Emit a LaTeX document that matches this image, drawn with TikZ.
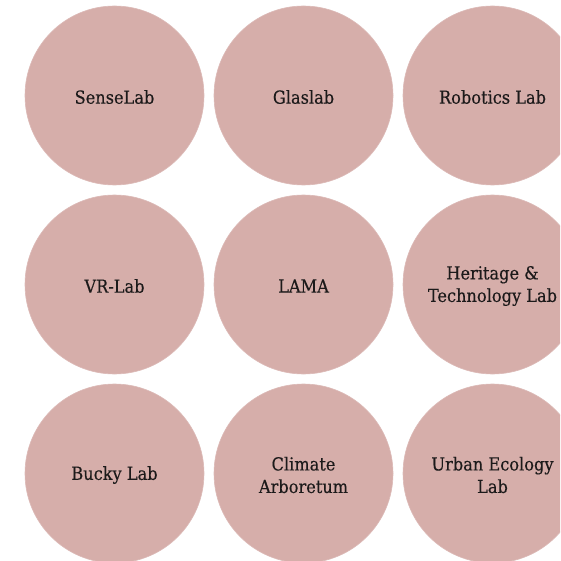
\documentclass[tikz,border=0pt]{standalone}
\usepackage{fontspec}
\setmainfont{DejaVu Serif Condensed}[FakeBold=0.25]
\definecolor{labfill}{HTML}{D6AEAA}
\definecolor{labtext}{HTML}{1C1A1A}
\begin{document}
\begin{tikzpicture}[x=1pt,y=-1pt,
  lab/.style={circle,fill=labfill,draw=labfill!85!white,line width=0.6pt,
    minimum size=179pt,inner sep=0pt},
  labname/.style={align=center,text=labtext,inner sep=0pt,yshift=-1.5pt,
    font=\fontsize{18}{22.5}\selectfont}]
\useasboundingbox (0,0) rectangle (560,561);
\clip (0,0) rectangle (560,561);
% the nine lab discs, three rows of three
\node[lab] (sense)    at (114.5,95.5)  {};
\node[lab] (glas)     at (303.5,95.5)  {};
\node[lab] (robot)    at (492.5,95.5)  {};
\node[lab] (vr)       at (114.5,284.5) {};
\node[lab] (lama)     at (303.5,284.5) {};
\node[lab] (heritage) at (492.5,284.5) {};
\node[lab] (bucky)    at (114.5,473.5) {};
\node[lab] (climate)  at (303.5,473.5) {};
\node[lab] (urban)    at (492.5,473.5) {};
% lab names
\node[labname] (t-sense)    at (sense.center)    {SenseLab};
\node[labname] (t-glas)     at (glas.center)     {Glaslab};
\node[labname] (t-robot)    at (robot.center)    {Robotics Lab};
\node[labname] (t-vr)       at (vr.center)       {VR-Lab};
\node[labname] (t-lama)     at (lama.center)     {LAMA};
\node[labname] (t-heritage) at (heritage.center) {Heritage \&\\Technology Lab};
\node[labname] (t-bucky)    at (bucky.center)    {Bucky Lab};
\node[labname] (t-climate)  at (climate.center)  {Climate\\Arboretum};
\node[labname] (t-urban)    at (urban.center)    {Urban Ecology\\Lab};
\end{tikzpicture}
\end{document}
